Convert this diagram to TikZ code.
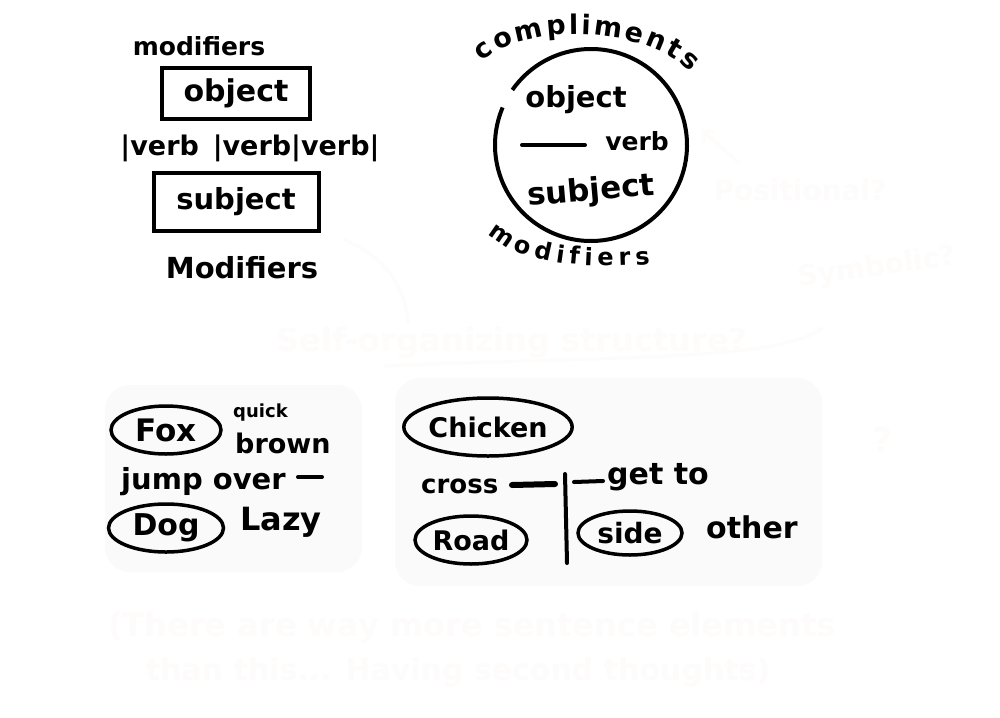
\documentclass[tikz,border=0pt]{standalone}
\usepackage{fontspec}
\setmainfont{DejaVu Sans}
\usetikzlibrary{shapes.geometric,decorations.text,arrows.meta}
\definecolor{ink}{RGB}{0,0,0}
\definecolor{ghost}{RGB}{254,251,251}
\definecolor{panel}{RGB}{250,250,250}
\begin{document}
\begin{tikzpicture}[x=1pt,y=-1pt,
  lbl/.style={font=\bfseries\fontsize{#1}{#1}\selectfont, inner sep=0pt, text=ink},
  lbl/.default=26,
  boxnode/.style={draw=ink, line width=4pt, rectangle},
  oval/.style={draw=ink, line width=3.5pt, ellipse},
  ghosttext/.style={text=ghost, font=\bfseries\fontsize{#1}{#1}\selectfont, inner sep=0pt},
  ghostline/.style={draw=ghost, line width=3pt, line cap=round},
  bar/.style={draw=ink, line width=4pt, line cap=round},
  panelbg/.style={fill=panel, rounded corners=25pt},
]
\path[use as bounding box, fill=white] (0,0) rectangle (1000,717);

% faint background panels
\path[panelbg] (105,385) rectangle (362,572);
\path[panelbg] (395,378) rectangle (822,586);

% faint (erased) notes
\node[ghosttext=28] (pos) at (800,190) {Positional?};
\node[ghosttext=28, rotate=8] (sym) at (877,268) {Symbolic?};
\node[ghosttext=32] (self) at (512,343) {Self-organizing structure?};
\node[ghosttext=34] (qmark) at (882,440) {?};
\node[ghosttext=32] (there1) at (472,628) {(There are way more sentence elements};
\node[ghosttext=30] (there2) at (458,672) {than this... Having second thoughts)};
\coordinate (ga1) at (738,162);
\coordinate (ga2) at (702,130);
\draw[ghostline, -{Straight Barb}] (ga1) -- (ga2);
\coordinate (gb1) at (345,240);
\coordinate (gb2) at (408,322);
\draw[ghostline] (gb1) .. controls (390,260) and (405,290) .. (gb2);
\coordinate (gc1) at (385,366);
\coordinate (gc2) at (822,328);
\draw[ghostline] (gc1) .. controls (600,356) and (780,362) .. (gc2);

% ---------- top left: boxes ----------
\node[lbl=25] (modtop) at (199,46) {modifiers};
\node[boxnode, minimum width=148pt, minimum height=51pt, lbl=30] (objbox) at (236,93) {object};
\node[lbl=27] (verbs) at (250,148) {|verb \,|verb|verb|};
\node[boxnode, minimum width=165pt, minimum height=58pt, lbl=29] (subjbox) at (236,202) {subject};
\node[lbl=29] (modbot) at (242,268) {Modifiers};

% ---------- top middle: circle ----------
\coordinate (cc) at (591,145);
\draw[ink, line width=4pt] ([shift={(145:96pt)}]cc) arc[start angle=145, end angle=-203, radius=96pt];
\path[decorate, decoration={text along path, text align=fit to path,
  text={|\bfseries\fontsize{27}{27}\selectfont|compliments}}]
  (482,62) .. controls (525,22) and (645,25) .. (690,72);
\node[lbl=29] (cobj) at (576,100) {object};
\coordinate (cl1) at (522,145);
\coordinate (cl2) at (585,145);
\draw[bar] (cl1) -- (cl2);
\node[lbl=25] (cverb) at (637,141) {verb};
\node[lbl=31, rotate=5] (csubj) at (591,192) {subject};
\path[decorate, decoration={text along path, text align=fit to path,
  text={|\bfseries\fontsize{24}{24}\selectfont|modifiers}}]
  (488,234) .. controls (515,262) and (580,270) .. (650,264);

% ---------- bottom left ----------
\node[oval, minimum width=110pt, minimum height=48pt, lbl=31] (fox) at (166,430) {Fox};
\node[lbl=18, anchor=west] (quick) at (233,413) {quick};
\node[lbl=27, anchor=west] (brown) at (235,443) {brown};
\node[lbl=29, anchor=west] (jump) at (121,482) {jump over};
\coordinate (jd1) at (298,477);
\coordinate (jd2) at (322,477);
\draw[bar] (jd1) -- (jd2);
\node[oval, minimum width=115pt, minimum height=48pt, lbl=30] (dog) at (166,528) {Dog};
\node[lbl=32, anchor=west] (lazy) at (240,522) {Lazy};

% ---------- bottom right ----------
\node[oval, minimum width=165pt, minimum height=58pt, lbl=27] (chicken) at (488,427) {Chicken};
\node[lbl=26, anchor=west] (cross) at (421,486) {cross};
\coordinate (x1) at (512,485);
\coordinate (x2) at (555,484);
\draw[bar, line width=6pt] (x1) -- (x2);
\coordinate (v1) at (565,474);
\coordinate (v2) at (567,563);
\draw[bar] (v1) -- (v2);
\coordinate (g1) at (574,482);
\coordinate (g2) at (603,481);
\draw[bar] (g1) -- (g2);
\node[lbl=30, anchor=west] (getto) at (607,477) {get to};
\node[oval, minimum width=112pt, minimum height=48pt, lbl=27] (road) at (471,540) {Road};
\node[oval, minimum width=104pt, minimum height=44pt, lbl=28] (side) at (630,533) {side};
\node[lbl=30, anchor=west] (other) at (706,527) {other};
\end{tikzpicture}
\end{document}
